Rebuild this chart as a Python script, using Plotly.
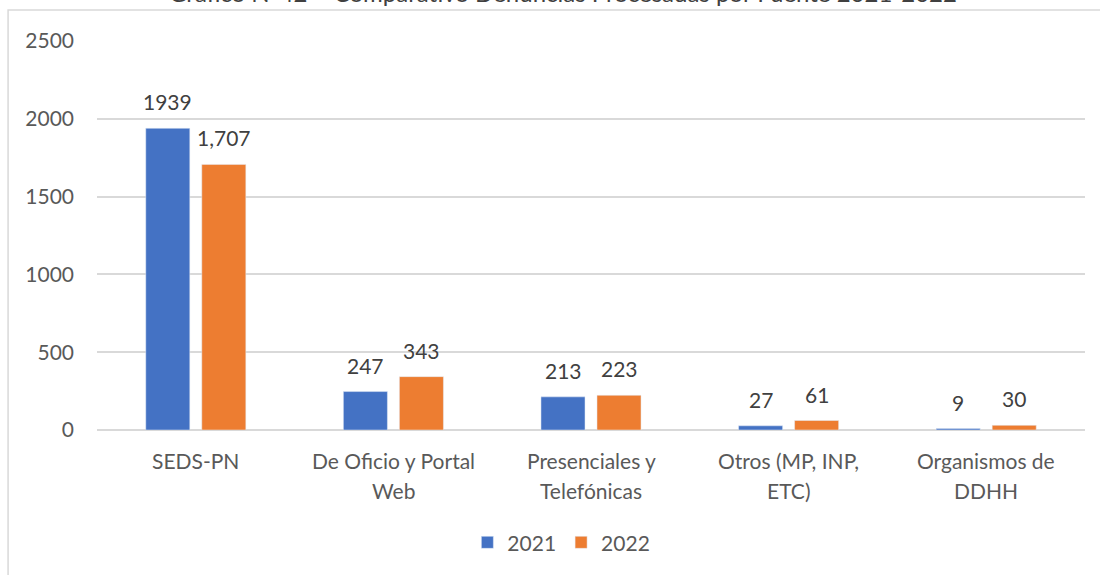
import plotly.graph_objects as go

categories = ["SEDS-PN", "De Oficio y Portal<br>Web", "Presenciales y<br>Telefónicas",
              "Otros (MP, INP,<br>ETC)", "Organismos de<br>DDHH"]
values_2021 = [1939, 247, 213, 27, 9]
values_2022 = [1707, 343, 223, 61, 30]
labels_2021 = ["1939", "247", "213", "27", "9"]
labels_2022 = ["1,707", "343", "223", "61", "30"]
y_ticks = [0, 500, 1000, 1500, 2000, 2500]
title_text = "Gráfico N°42 – Comparativo Denuncias Procesadas por Fuente 2021-2022"

FONT = "Lato, Calibri, Carlito, sans-serif"
TXT = "#595959"
FS = 21

fig = go.Figure()
fig.add_trace(go.Bar(name="2021", x=categories, y=values_2021, marker_color="#4472C4"))
fig.add_trace(go.Bar(name="2022", x=categories, y=values_2022, marker_color="#ED7D31"))

# data labels
for vals, labs, shift in [(values_2021, labels_2021, -28), (values_2022, labels_2022, 28)]:
    for c, v, t in zip(categories, vals, labs):
        fig.add_annotation(x=c, y=v, text=t, showarrow=False, xshift=shift, yshift=12,
                           yanchor="bottom", font=dict(family=FONT, size=FS, color="#404040"))

# category labels (one annotation per line for Excel-like line spacing)
for c in categories:
    for i, line in enumerate(c.split("<br>")):
        fig.add_annotation(x=c, y=0, text=line, showarrow=False, yanchor="middle",
                           yshift=-(30 + 30 * i),
                           font=dict(family=FONT, size=FS, color=TXT))

fig.add_annotation(xref="paper", yref="paper", x=0.472, y=1.083, yanchor="bottom",
                   text=title_text, showarrow=False,
                   font=dict(family=FONT, size=24, color="#404040"))

fig.add_shape(type="rect", xref="paper", yref="paper", x0=-0.09, x1=1.2, y0=-0.6, y1=1.0797,
              line=dict(color="#D9D9D9", width=1.5), fillcolor="rgba(0,0,0,0)", layer="below")

fig.update_layout(
    width=1100, height=575,
    margin=dict(l=97, r=15, t=41, b=145),
    paper_bgcolor="white", plot_bgcolor="white",
    barmode="group", bargap=0.433, bargroupgap=0.214,
    font=dict(family=FONT, size=FS, color=TXT),
    legend=dict(orientation="h", x=0.47, xanchor="center", y=-0.237, yanchor="top",
                font=dict(size=FS, color=TXT), itemwidth=30, traceorder="normal"),
    xaxis=dict(showgrid=False, showline=False, ticks="", showticklabels=False),
    yaxis=dict(range=[0, 2500], tickvals=y_ticks, showgrid=True, gridcolor="#D9D9D9",
               gridwidth=1.5, zeroline=True, zerolinecolor="#D9D9D9", zerolinewidth=1.5,
               tickfont=dict(size=FS, color=TXT), ticklabelstandoff=22, showline=False),
)

fig.write_html("out.html", config={"displayModeBar": False},
               post_script="document.body.style.margin='0';document.body.style.overflow='hidden';")
